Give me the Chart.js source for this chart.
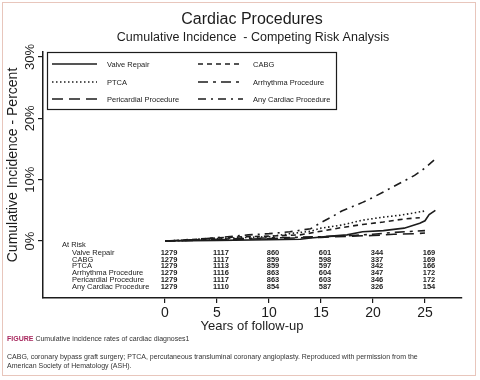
<!DOCTYPE html>
<html><head><meta charset="utf-8">
<script src="https://cdn.jsdelivr.net/npm/chart.js@4/dist/chart.umd.min.js"></script>
<style>
html,body{margin:0;padding:0;background:#fff;}
#wrap{position:relative;width:480px;height:380px;overflow:hidden;background:#fff;}
#frame{position:absolute;left:2px;top:2px;width:472px;height:372px;border:1px solid #e8c6bc;box-sizing:content-box;}
#c{position:absolute;left:0;top:0;}
#cap{position:absolute;left:7px;top:334px;width:470px;font-family:"Liberation Sans",Arial,sans-serif;font-size:7px;color:#333;white-space:nowrap;}
#cap .fig{color:#a8285e;font-weight:bold;}
#cap p{margin:0;line-height:9px;}
</style></head>
<body><div id="wrap"><div id="frame"></div><canvas id="c" width="480" height="380"></canvas>
<div id="cap"><p><span class="fig">FIGURE</span> Cumulative incidence rates of cardiac diagnoses1</p>
<p style="margin-top:9px">CABG, coronary bypass graft surgery; PTCA, percutaneous transluminal coronary angioplasty. Reproduced with permission from the</p>
<p>American Society of Hematology (ASH).</p></div></div>
<script>
const titleText = "Cardiac Procedures";
const subtitleText = "Cumulative Incidence  - Competing Risk Analysis";
const yTitleText = "Cumulative Incidence - Percent";
const xTitleText = "Years of follow-up";
const seriesNames = ["Valve Repair","CABG","PTCA","Arrhythma Procedure","Pericardial Procedure","Any Cardiac Procedure"];
const xTicks = [0,5,10,15,20,25];
const yTicks = [0,10,20,30];

const valveYears = [0,5,10,13,14,16,17.5,19,21,23,24.5,25,25.4,26];
const valvePct   = [0,0.1,0.2,0.3,0.5,0.8,1.0,1.5,1.7,2.1,2.9,3.3,4.3,5.0];
const cabgYears  = [0,3,6,10,13,15,17,19,21,23,24.5];
const cabgPct    = [0,0.3,0.6,0.8,1.0,1.6,2.2,2.7,3.1,3.6,3.8];
const ptcaYears  = [0,3,5,8,10,12,14,15,17,19,21,22.6,24,25];
const ptcaPct    = [0,0.2,0.4,0.6,0.7,1.2,1.6,2.1,2.6,3.4,3.9,4.2,4.6,4.9];
const arrhYears  = [0,5,10,15,18,20,22,24,25];
const arrhPct    = [0,0.3,0.5,0.7,0.9,1.1,1.4,1.6,1.7];
const periYears  = [0,5,10,15,18,20,22,24,25];
const periPct    = [0,0.2,0.4,0.6,0.8,0.9,1.1,1.2,1.3];
const anyYears   = [0,2,4,6,8,10,12,14,15,16,17,18,19,20,21,22,23,24,25,26];
const anyPct     = [0,0.1,0.4,0.7,1.0,1.2,1.5,2.0,3.0,3.9,4.9,5.6,6.3,7.1,8.0,8.9,9.8,10.7,11.9,13.4];

const atRiskLabel = "At Risk";
const atRiskValve = [1279,1117,860,601,344,169];
const atRiskCABG  = [1279,1117,859,598,337,169];
const atRiskPTCA  = [1279,1113,859,597,342,166];
const atRiskArrh  = [1279,1116,863,604,347,172];
const atRiskPeri  = [1279,1117,863,603,346,172];
const atRiskAny   = [1279,1110,854,587,326,154];

const dashes = [[],[5,4],[1.5,2.5],[10,5,3,5],[11,6],[8,5,2,5]];
const yearsList = [valveYears,cabgYears,ptcaYears,arrhYears,periYears,anyYears];
const pctList = [valvePct,cabgPct,ptcaPct,arrhPct,periPct,anyPct];
const atRiskList = [atRiskValve,atRiskCABG,atRiskPTCA,atRiskArrh,atRiskPeri,atRiskAny];

const INK = '#1c1c1c';
const FONT = "'Liberation Sans', Arial, sans-serif";

const datasets = seriesNames.map((name,i)=>({
  label: name,
  data: yearsList[i].map((x,j)=>({x:x, y:pctList[i][j]})),
  borderColor: INK, borderWidth: 1.6, borderDash: dashes[i],
  pointRadius: 0, fill: false, tension: 0
}));

const deco = {
  id: 'deco',
  afterDraw(chart){
    const ctx = chart.ctx;
    const xs = chart.scales.x, ys = chart.scales.y;
    ctx.save();
    ctx.fillStyle = INK; ctx.strokeStyle = INK;
    ctx.textBaseline = 'middle';
    // titles
    ctx.textAlign = 'center';
    ctx.font = "16px " + FONT;
    ctx.fillText(titleText, 252, 20);
    ctx.font = "12.5px " + FONT;
    ctx.fillText(subtitleText, 253, 38);
    // x title
    ctx.font = "13px " + FONT;
    ctx.fillText(xTitleText, 252, 326);
    // y tick labels (rotated, centred on ticks)
    ctx.font = "13px " + FONT;
    ys.ticks.forEach(t=>{
      ctx.save();
      ctx.translate(30, ys.getPixelForValue(t.value));
      ctx.rotate(-Math.PI/2);
      ctx.fillText(t.value + '%', 0, 0);
      ctx.restore();
    });
    // y title
    ctx.save();
    ctx.translate(13, 165);
    ctx.rotate(-Math.PI/2);
    ctx.font = "14px " + FONT;
    ctx.fillText(yTitleText, 0, 0);
    ctx.restore();
    // legend
    ctx.lineWidth = 1.2;
    ctx.setLineDash([]);
    ctx.strokeRect(47.5, 52.5, 289, 57);
    const rowY = [64, 82, 99];
    const colX = [52, 198];
    ctx.textAlign = 'left';
    ctx.font = "7.5px " + FONT;
    seriesNames.forEach((name,i)=>{
      const r = Math.floor(i/2), c = i%2;
      ctx.lineWidth = 1.6;
      ctx.setLineDash(dashes[i]);
      ctx.beginPath();
      ctx.moveTo(colX[c], rowY[r]); ctx.lineTo(colX[c]+45, rowY[r]);
      ctx.stroke();
      ctx.setLineDash([]);
      ctx.fillText(name, colX[c]+55, rowY[r]+0.5);
    });
    // at-risk table
    ctx.font = "7.5px " + FONT;
    ctx.fillText(atRiskLabel, 62, 245);
    const tRows = [252.5, 259.5, 266.3, 273.2, 280, 287];
    seriesNames.forEach((name,i)=>{
      ctx.textAlign = 'left';
      ctx.font = "7.5px " + FONT;
      ctx.fillText(name, 72, tRows[i]);
      ctx.textAlign = 'center';
      ctx.font = "bold 7.5px " + FONT;
      atRiskList[i].forEach((v,j)=>{
        ctx.fillText(String(v), xs.getPixelForValue(xTicks[j]) + 4, tRows[i]);
      });
    });
    ctx.restore();
  }
};

new Chart(document.getElementById('c'), {
  type: 'line',
  data: { datasets },
  options: {
    responsive: false, animation: false, devicePixelRatio: 1,
    layout: { padding: { top: 52, right: 18, left: 0, bottom: 42 } },
    plugins: { legend: { display: false }, tooltip: { enabled: false }, title: { display: false } },
    scales: {
      x: {
        type: 'linear', min: -11.73, max: 28.56,
        afterBuildTicks: s => { s.ticks = xTicks.map(v=>({value:v})); },
        afterFit: s => { s.height = 40; },
        border: { color: INK, width: 1.5 },
        grid: { drawOnChartArea: false, color: INK, tickLength: 5, lineWidth: 1.2 },
        ticks: { color: INK, font: { family: FONT, size: 14 }, padding: 2, maxRotation: 0 }
      },
      y: {
        type: 'linear', min: -9.29, max: 30.82,
        afterBuildTicks: s => { s.ticks = yTicks.map(v=>({value:v})); },
        afterFit: s => { s.width = 43; },
        border: { color: INK, width: 1.5 },
        grid: { drawOnChartArea: false, color: INK, tickLength: 5, lineWidth: 1.2 },
        ticks: { display: false }
      }
    }
  },
  plugins: [deco]
});
</script>
</body></html>
